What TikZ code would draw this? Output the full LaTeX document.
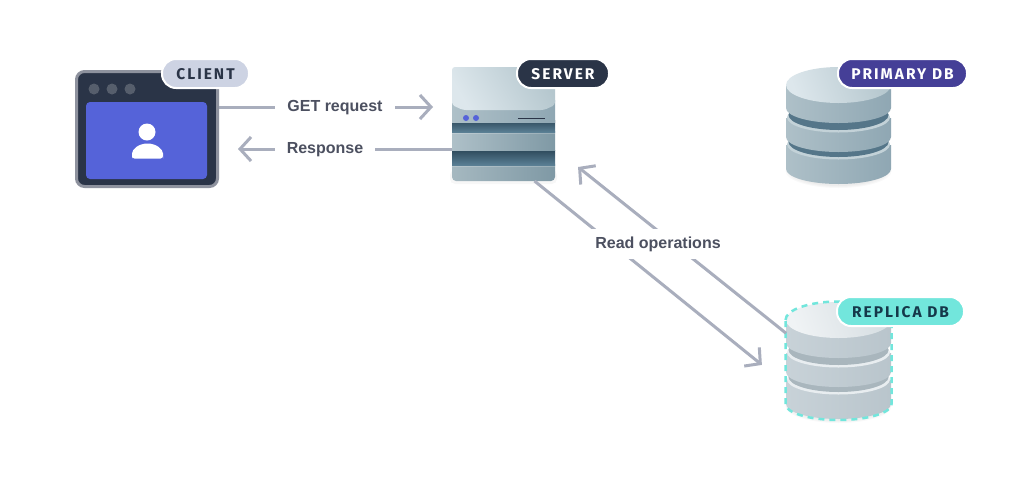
\documentclass[tikz,border=0pt]{standalone}
\usepackage{fontspec}
\setmainfont{Liberation Sans}
\newfontfamily\tagfont[LetterSpace=13]{Fira Sans}
\usetikzlibrary{arrows.meta}
\definecolor{ink}{HTML}{2A3447}
\definecolor{frameedge}{HTML}{8E929E}
\definecolor{winblue}{HTML}{5563D9}
\definecolor{windot}{HTML}{565E6C}
\definecolor{linegrey}{HTML}{A9AEBD}
\definecolor{labelgrey}{HTML}{4C5060}
\definecolor{tagclient}{HTML}{CDD3E3}
\definecolor{tagprimary}{HTML}{453F97}
\definecolor{tagreplica}{HTML}{72E6DC}
\definecolor{tagreplicatext}{HTML}{15384A}
\definecolor{steelmid}{HTML}{A5B8C0}
\definecolor{steelright}{HTML}{7F99A5}
\definecolor{bandedge}{HTML}{557689}
\definecolor{bandmid}{HTML}{5A7F94}
\definecolor{banddark}{HTML}{2E4A5C}
\definecolor{steelleft}{HTML}{AEC0C8}
\definecolor{steelrim}{HTML}{8FA7B3}
\definecolor{rimlight}{HTML}{C3D2D8}
\definecolor{toplight}{HTML}{DDE7EC}
\definecolor{topshade}{HTML}{B5C7CE}
\definecolor{repL}{HTML}{C8D2D8}
\definecolor{repM}{HTML}{DDE3E7}
\definecolor{repR}{HTML}{B9C5CC}
\definecolor{repTL}{HTML}{F0F3F5}
\definecolor{repTR}{HTML}{D6DEE2}
\definecolor{repB}{HTML}{A9B6BD}
\definecolor{repRim}{HTML}{E8EDF0}
\tikzset{
  x=1pt,y=-1pt,
  conn/.style={draw=linegrey,line width=3pt,-{Straight Barb[length=11pt,width=24pt,line width=3pt]}},
  lbl/.style={font=\fontsize{16}{18}\selectfont\bfseries,text=labelgrey,fill=white,inner xsep=0pt,inner ysep=0pt,minimum height=30pt,text height=12pt,text depth=3pt},
  tagpill/.style={rounded corners=14pt,draw=white,line width=2pt,minimum height=29pt,inner sep=0pt,text height=12pt,text depth=0pt,font=\tagfont\fontsize{15.5}{16}\selectfont\bfseries},
  hold/.style={inner sep=0pt,outer sep=0pt},
}
\newcommand{\slab}[2]{% top cy, bottom cy
  \path[left color=dbL,middle color=dbM,right color=dbR]
    (786,#1) -- (786,#2) arc (180:0:52.5 and 15) -- (891,#1) -- cycle;
}
\newcommand{\softshadow}{%
  \fill[black,opacity=.025] (838.5,171) ellipse (53 and 17);
  \fill[black,opacity=.025] (838.5,171) ellipse (51 and 16);
  \fill[black,opacity=.025] (838.5,170) ellipse (49 and 16);
}
\newcommand{\dbstack}{%
  \softshadow
  \slab{145}{169}
  \path[fill=dbRim] (838.5,144.5) ellipse (51.5 and 15);
  \path[fill=dbBand] (838.5,142) ellipse (50 and 15);
  \slab{118}{137}
  \path[fill=dbRim] (838.5,117.5) ellipse (51.5 and 15);
  \path[fill=dbBand] (838.5,115) ellipse (50 and 15);
  \slab{85}{108}
  \path[left color=dbTL,right color=dbTR,shading angle=110] (838.5,85) ellipse (52.5 and 18);
}
\begin{document}
\begin{tikzpicture}
\useasboundingbox (0,0) rectangle (1024,480);
\fill[white] (0,0) rectangle (1024,480);

% client window
\node[draw=frameedge,fill=ink,line width=3pt,rounded corners=8pt,minimum width=141pt,minimum height=115pt,inner sep=0pt,outer sep=1.5pt] (client) at (147,129) {};
\fill[windot] (94,89) circle (5.5) (112,89) circle (5.5) (130,89) circle (5.5);
\fill[winblue,rounded corners=4pt] (86,102) rectangle (207,179);
\fill[white] (147,132) circle (8.5);
\fill[white,rounded corners=2.5pt] (132,158.5) -- (132,156) arc (180:360:15.5 and 12.5) -- (163,158.5) -- cycle;

% server
\node[hold,minimum width=103pt,minimum height=114pt] (server) at (503.5,124) {};
\fill[black,opacity=.03,rounded corners=5pt] (450,170) rectangle (557,184);
\path[left color=steelmid,right color=steelright,rounded corners=4pt] (452,160) rectangle (555,181);
\fill[white,opacity=.2] (452,165) rectangle (555,166.5);
\path[top color=banddark,bottom color=bandmid] (452,150) rectangle (555,165);
\path[left color=steelleft,right color=steelright] (452,131) rectangle (555,150);
\fill[white,opacity=.2] (452,132.5) rectangle (555,134);
\path[top color=banddark,bottom color=bandmid] (452,120) rectangle (555,132);
\path[left color=steelleft,middle color=steelmid,right color=steelrim] (452,100) -- (452,122) -- (555,122) -- (555,100) -- cycle;
\path[left color=toplight,right color=topshade,shading angle=120,rounded corners=3pt] (452,67) -- (555,67) -- (555,105) -- (544,110) -- (463,110) -- (452,105) -- cycle;
\fill[winblue] (466,118) circle (3) (476,118) circle (3);
\draw[ink,line width=1pt] (518,118) -- (545,118);

% primary
\node[hold,minimum width=105pt,minimum height=117pt] (primary) at (838.5,125.5) {};
\begin{scope}
\colorlet{dbL}{steelleft}\colorlet{dbM}{steelmid}\colorlet{dbR}{steelrim}
\colorlet{dbTL}{toplight}\colorlet{dbTR}{topshade}\colorlet{dbBand}{bandedge}\colorlet{dbRim}{rimlight}
\dbstack
\end{scope}

% replica
\node[hold,minimum width=105pt,minimum height=117pt] (replica) at (838.5,360.5) {};
\begin{scope}[yshift=-235pt]
\colorlet{dbL}{repL}\colorlet{dbM}{repM}\colorlet{dbR}{repR}
\colorlet{dbTL}{repTL}\colorlet{dbTR}{repTR}\colorlet{dbBand}{repB}\colorlet{dbRim}{repRim}
\dbstack
\draw[tagreplica,line width=2.5pt,dash pattern=on 6pt off 5pt]
  (785.5,85) arc (180:360:53 and 18.5) -- (891.5,169) arc (0:180:53 and 16) -- cycle;
\end{scope}

% connectors
\draw[conn,shorten >=19pt] (client.east |- 0,107) -- (server.west |- 0,107);
\draw[conn,shorten >=19pt] (server.west |- 0,149) -- (client.east |- 0,149);
\draw[conn,shorten >=31pt] (534.5,0 |- server.south) -- (replica.west |- 0,384.4);
\draw[conn,shorten >=29.5pt] (replica.west |- 0,333.2) -- (server.east |- 0,148.6);

% labels
\node[lbl,minimum width=120pt] (get) at (335,107) {GET request};
\node[lbl,minimum width=100pt] (resp) at (325,149) {Response};
\node[lbl,minimum width=150pt] (read) at (658,244) {Read operations};

% tags
\node[tagpill,fill=tagclient,text=ink,minimum width=87pt] (tagc) at (205.5,73.5) {CLIENT};
\node[tagpill,fill=ink,text=white,minimum width=92pt] (tags) at (563,73.5) {SERVER};
\node[tagpill,fill=tagprimary,text=white,minimum width=129pt] (tagp) at (902.5,73.5) {PRIMARY DB};
\node[tagpill,fill=tagreplica,text=tagreplicatext,minimum width=127pt] (tagr) at (900.5,311.5) {REPLICA DB};
\end{tikzpicture}
\end{document}
